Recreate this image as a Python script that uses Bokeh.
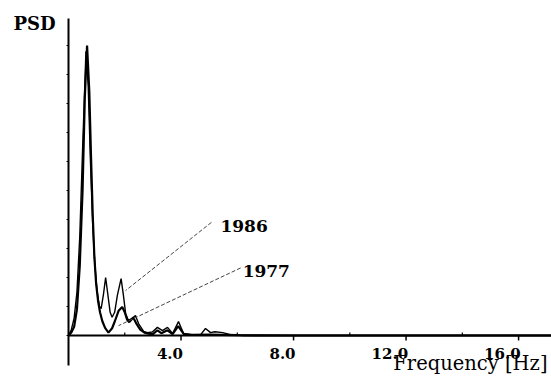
from bokeh.plotting import figure
from bokeh.models import FixedTicker, Range1d
from bokeh.core.properties import value
from bokeh.embed import file_html
from bokeh.resources import INLINE

# ---- data ----
freq_1977 = [0, 0.1, 0.2, 0.3, 0.4, 0.5, 0.58, 0.66, 0.74, 0.8, 0.86, 0.92, 0.98, 1.05, 1.12,
             1.2, 1.3, 1.42, 1.55, 1.65, 1.78, 1.91, 2.0, 2.08, 2.16, 2.3, 2.42, 2.55, 2.7,
             2.85, 3.0, 3.16, 3.3, 3.52, 3.7, 3.9, 4.1, 4.4, 5.0, 6.0, 8.0, 12.0, 17.2]
psd_1977 = [0, 1, 3, 9, 24, 50, 82, 100, 84, 62, 42, 27, 18, 12, 8,
            5, 2.6, 1, 2.5, 5, 8.5, 9.8, 8, 5.5, 4.6, 6.2, 4, 2, 1,
            0.6, 0.5, 1.8, 0.8, 1.8, 0.5, 3.2, 0.5, 0.2, 0.3, 0.1, 0, 0, 0]

freq_1986 = [0, 0.1, 0.2, 0.3, 0.4, 0.5, 0.62, 0.7, 0.78, 0.86, 0.94, 1.02, 1.1, 1.16, 1.24,
             1.32, 1.4, 1.48, 1.55, 1.64, 1.74, 1.87, 1.95, 2.03, 2.13, 2.25, 2.38, 2.49,
             2.67, 2.81, 2.98, 3.16, 3.34, 3.52, 3.7, 3.91, 4.09, 4.34, 4.7, 4.87, 5.05,
             5.2, 5.48, 5.76, 6.2, 8.0, 12.0, 17.2]
psd_1986 = [0, 2, 6, 15, 34, 64, 98, 86, 60, 38, 24, 15, 10, 9.3, 14,
            20, 14, 8, 6.3, 8, 14, 19.6, 14, 7.6, 5.2, 5.8, 6.9, 4.1,
            1.4, 1, 1.2, 2.8, 1.7, 2.8, 0.7, 4.8, 0.7, 0.3, 0.3, 2.4, 1,
            1.3, 1, 0.3, 0, 0, 0, 0]

x_major_ticks = [4, 8, 12, 16]
x_major_labels = ["4.0", "8.0", "12.0", "16.0"]
x_minor_ticks = [2, 6, 10, 14]
x_axis_end = 17.17
y_axis_bounds = (-10.34, 109.3)

series_names = ["1986", "1977"]
label_pos_x = [5.40, 6.19]
label_pos_y = [37.9, 22.4]
leader_start_x = [5.08, 6.12]
leader_start_y = [39.0, 23.3]
leader_end_x = [2.03, 1.78]
leader_end_y = [15.5, 3.4]

SERIF = "DejaVu Serif"

p = figure(width=551, height=379, output_backend="svg", toolbar_location=None,
           x_range=Range1d(-2.062, x_axis_end), y_range=Range1d(-15.17, 115.5),
           x_axis_location=None, min_border_left=10, min_border_right=0,
           min_border_top=0, min_border_bottom=0)
p.outline_line_color = None
p.grid.visible = False
p.background_fill_color = "white"
p.border_fill_color = "white"

# y axis at frequency 0, no labels
p.yaxis.fixed_location = 0
p.yaxis.ticker = FixedTicker(ticks=list(range(0, 110, 10)))
p.yaxis.bounds = y_axis_bounds
p.yaxis.major_label_text_color = None
p.yaxis.major_label_text_font_size = "1px"
p.yaxis.major_label_standoff = 0
p.yaxis.major_tick_out = 2
p.yaxis.major_tick_in = 0
p.yaxis.major_tick_line_width = 1
p.yaxis.minor_tick_out = 0
p.yaxis.axis_line_width = 2
p.yaxis.axis_line_color = "black"

# x axis drawn at PSD = 0
p.segment(x0=[0], y0=[0], x1=[x_axis_end], y1=[0], line_color="black", line_width=2)
p.segment(x0=x_major_ticks, y0=[0] * 4, x1=x_major_ticks, y1=[-1.7] * 4,
          line_color="black", line_width=1.5)
p.segment(x0=x_minor_ticks, y0=[0] * 4, x1=x_minor_ticks, y1=[1.0] * 4,
          line_color="black", line_width=1.2)
p.text(x=x_major_ticks, y=[-6.2] * 4, text=x_major_labels, text_align="right",
       text_baseline="alphabetic", x_offset=2, text_font=value(SERIF),
       text_font_style="bold", text_font_size="15px", text_color="black")
p.text(x=[x_axis_end], y=[-9.66], text=["Frequency [Hz]"], text_align="right",
       text_baseline="alphabetic", x_offset=-4, text_font=value(SERIF),
       text_font_size="19.5px", text_color="black")
p.text(x=[-1.956], y=[107.6], text=["PSD"], text_align="left",
       text_baseline="alphabetic", text_font=value(SERIF), text_font_style="bold",
       text_font_size="18px", text_color="black")

# curves
p.line(freq_1977, psd_1977, line_color="black", line_width=2.2)
p.line(freq_1986, psd_1986, line_color="black", line_width=1.4)

# leader lines + series labels
for i in range(2):
    p.line([leader_start_x[i], leader_end_x[i]], [leader_start_y[i], leader_end_y[i]],
           line_color="#444444", line_width=1, line_dash="4 2")
p.text(x=label_pos_x, y=label_pos_y, text=series_names, text_align="left",
       text_baseline="alphabetic", text_font=value(SERIF), text_font_style="bold",
       text_font_size="17px", text_color="black")

open("out.html", "w").write(file_html(p, INLINE))
